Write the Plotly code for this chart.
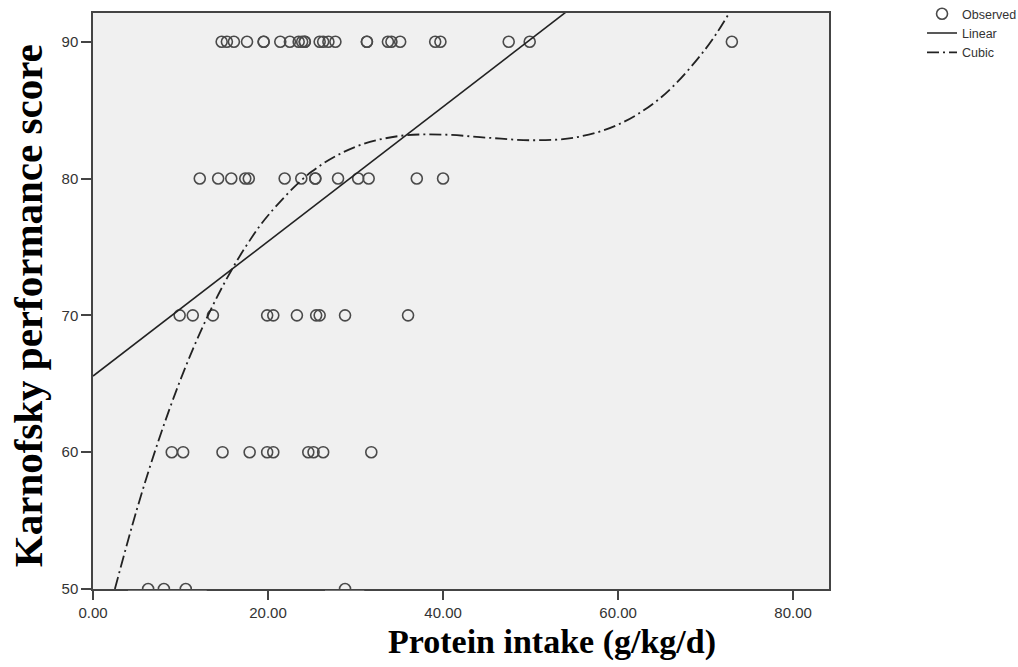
import plotly.graph_objects as go

# Observed points (protein intake, Karnofsky score)
obs_x_90 = [14.7, 15.3, 16.1, 17.6, 19.5, 19.5, 21.4, 22.5, 23.5, 23.9, 24.2, 24.2, 25.9, 26.3,
            26.9, 27.7, 31.3, 31.3, 33.7, 34.1, 35.1, 39.1, 39.7, 47.5, 49.9, 73.0]
obs_x_80 = [12.2, 14.3, 15.8, 17.4, 17.8, 21.9, 23.8, 25.4, 25.4, 28.0, 30.3, 31.5, 37.0, 40.0]
obs_x_70 = [9.9, 11.4, 13.7, 19.9, 20.6, 23.3, 25.5, 25.9, 28.8, 36.0]
obs_x_60 = [9.0, 10.3, 14.8, 17.9, 19.9, 20.6, 24.6, 25.2, 26.3, 31.8]
obs_x_50 = [6.3, 8.1, 10.6, 28.8]

obs_x = obs_x_90 + obs_x_80 + obs_x_70 + obs_x_60 + obs_x_50
obs_y = ([90] * len(obs_x_90) + [80] * len(obs_x_80) + [70] * len(obs_x_70)
         + [60] * len(obs_x_60) + [50] * len(obs_x_50))

# Linear fit line
linear_x = [0, 60]
linear_y = [65.56, 95.1]

# Cubic fit curve
cubic_x = [2.5, 5, 7.5, 10, 12.5, 15, 17.5, 20, 25, 30, 35, 40, 45, 50, 55, 60, 65, 70, 72.7, 74]
cubic_y = [50.0, 55.79, 60.87, 65.30, 69.11, 72.35, 75.07, 77.30, 80.51, 82.32, 83.11, 83.21,
           82.99, 82.80, 82.99, 83.94, 85.98, 89.48, 92.1, 93.57]

x_ticks = [0, 20, 40, 60, 80]
x_tick_labels = ["0.00", "20.00", "40.00", "60.00", "80.00"]
y_ticks = [50, 60, 70, 80, 90]

fig = go.Figure()
fig.add_trace(go.Scatter(
    x=obs_x, y=obs_y, mode="markers", name="Observed",
    marker=dict(symbol="circle-open", size=11, color="#4a4a4a", line=dict(width=1.6)),
    cliponaxis=True,
))
fig.add_trace(go.Scatter(
    x=linear_x, y=linear_y, mode="lines", name="Linear",
    line=dict(color="#222222", width=1.6),
))
fig.add_trace(go.Scatter(
    x=cubic_x, y=cubic_y, mode="lines", name="Cubic", line_shape="spline",
    line=dict(color="#222222", width=1.8, dash="12px,4px,2px,4px"),
))

serif = "Liberation Serif, Times New Roman, serif"
sans = "Liberation Sans, Arial, sans-serif"

# white masks so the circles sitting on the bottom axis appear cut by the frame
mask_ranges = [(4.0, 13.0), (26.5, 31.0)]
shapes = [dict(type="rect", xref="x", yref="paper", x0=a, x1=b, y0=-0.0029, y1=-0.026,
               fillcolor="white", line=dict(width=0), layer="above") for a, b in mask_ranges]

fig.update_layout(
    width=1018, height=667,
    paper_bgcolor="white", plot_bgcolor="#f0f0f0",
    margin=dict(l=93, r=189, t=13, b=78, autoexpand=False),
    showlegend=True,
    legend=dict(x=1.1264, y=1.024, xanchor="left", yanchor="top",
                font=dict(family=sans, size=12.5, color="#333333"),
                itemwidth=30, tracegroupgap=0, bgcolor="rgba(0,0,0,0)"),
    shapes=shapes,
    xaxis=dict(
        range=[0, 84.1], tickvals=x_ticks, ticktext=x_tick_labels,
        showgrid=False, zeroline=False, showline=True, mirror=True,
        linecolor="#444444", linewidth=1.5, ticks="outside", ticklen=9,
        tickcolor="#444444", tickwidth=1.5,
        tickfont=dict(family=sans, size=15, color="#333333"),
    ),
    yaxis=dict(
        range=[50, 92.1], tickvals=y_ticks,
        showgrid=False, zeroline=False, showline=True, mirror=True,
        linecolor="#444444", linewidth=1.5, ticks="outside", ticklen=10,
        tickcolor="#444444", tickwidth=1.5,
        tickfont=dict(family=sans, size=15, color="#333333"),
    ),
    annotations=[
        dict(text="<b>Protein intake (g/kg/d)</b>", xref="paper", yref="paper",
             x=0.6236, y=-0.092, xanchor="center", yanchor="middle", showarrow=False,
             font=dict(family=serif, size=34, color="black")),
        dict(text="<b>Karnofsky performance score</b>", xref="paper", yref="paper",
             x=-0.0883, y=0.491, xanchor="center", yanchor="middle", showarrow=False,
             textangle=-90, font=dict(family=serif, size=41, color="black")),
    ],
)

fig.write_html("out.html")
